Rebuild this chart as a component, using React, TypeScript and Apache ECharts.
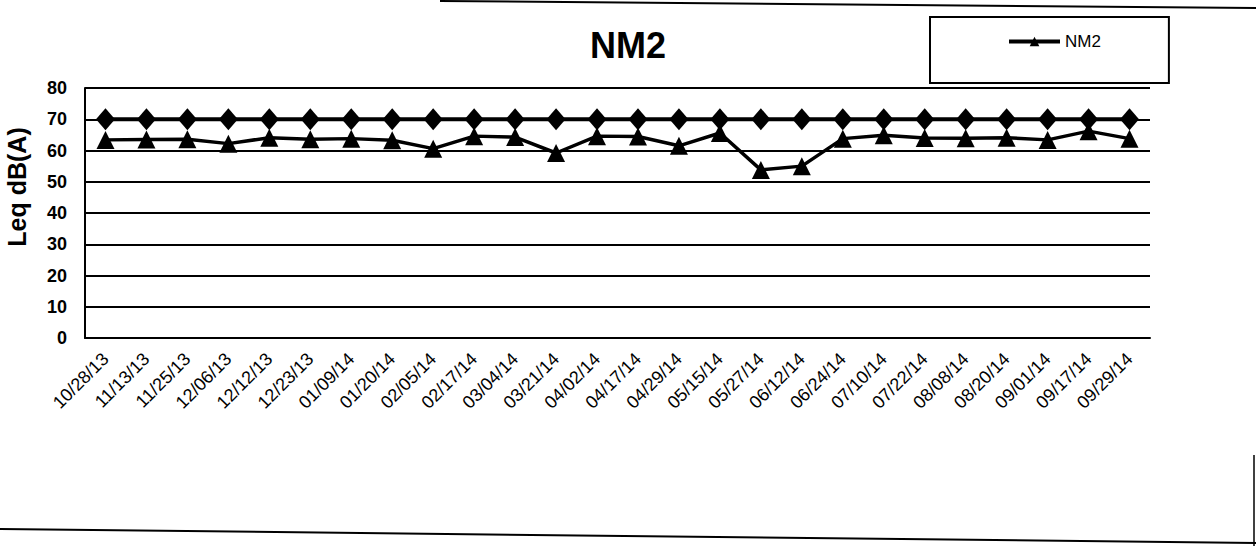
import React, { useEffect, useRef } from "react";
import * as echarts from "echarts";

const categories = [
  "10/28/13", "11/13/13", "11/25/13", "12/06/13", "12/12/13", "12/23/13",
  "01/09/14", "01/20/14", "02/05/14", "02/17/14", "03/04/14", "03/21/14",
  "04/02/14", "04/17/14", "04/29/14", "05/15/14", "05/27/14", "06/12/14",
  "06/24/14", "07/10/14", "07/22/14", "08/08/14", "08/20/14", "09/01/14",
  "09/17/14", "09/29/14",
];

const nm2Values = [
  63.4, 63.5, 63.6, 62.2, 64.1, 63.6, 63.8, 63.3, 60.6, 64.6, 64.3, 59.2, 64.6,
  64.5, 61.5, 65.6, 53.8, 55.0, 63.8, 64.9, 64.0, 63.9, 64.1, 63.4, 66.2, 63.8,
];

const limitValues = [
  70, 70, 70, 70, 70, 70, 70, 70, 70, 70, 70, 70, 70,
  70, 70, 70, 70, 70, 70, 70, 70, 70, 70, 70, 70, 70,
];

const yTicks = { min: 0, max: 80, interval: 10 };
const titleText = "NM2";
const yAxisName = "Leq dB(A)";

const FONT = '"Liberation Sans", Arial, sans-serif';

export default function App() {
  const ref = useRef<HTMLDivElement>(null);

  useEffect(() => {
    document.body.style.margin = "0";
    if (!ref.current) return;
    const chart = echarts.init(ref.current, undefined, { renderer: "svg" });
    chart.setOption({
      animation: false,
      backgroundColor: "#ffffff",
      title: {
        text: titleText,
        left: "center",
        top: 22,
        textStyle: { fontFamily: FONT, fontWeight: "bold", fontSize: 36, color: "#000" },
      },
      legend: {
        data: ["NM2"],
        left: 930,
        top: 17,
        padding: [16, 68, 33, 77],
        borderColor: "#000",
        borderWidth: 2,
        itemWidth: 51,
        itemHeight: 12,
        lineStyle: { width: 4, color: "#000" },
        textStyle: { fontFamily: FONT, fontSize: 17, color: "#000" },
      },
      grid: { left: 85, right: 106, top: 88, bottom: 208 },
      xAxis: {
        type: "category",
        data: categories,
        boundaryGap: true,
        axisLine: { lineStyle: { color: "#000", width: 2 } },
        axisTick: { show: false },
        axisLabel: {
          rotate: 45,
          interval: 0,
          fontSize: 18,
          margin: 18,
          color: "#000",
          fontFamily: FONT,
        },
      },
      yAxis: {
        type: "value",
        min: yTicks.min,
        max: yTicks.max,
        interval: yTicks.interval,
        axisLine: { show: true, lineStyle: { color: "#000", width: 2 } },
        axisTick: { show: false },
        splitLine: { lineStyle: { color: "#000", width: 2 } },
        axisLabel: {
          fontSize: 18,
          fontWeight: "bold",
          color: "#000",
          margin: 18,
          fontFamily: FONT,
        },
      },
      series: [
        {
          name: "Limit",
          type: "line",
          data: limitValues,
          symbol: "diamond",
          symbolSize: [19, 22],
          lineStyle: { color: "#000", width: 4 },
          itemStyle: { color: "#000" },
          z: 3,
        },
        {
          name: "NM2",
          type: "line",
          data: nm2Values,
          symbol: "triangle",
          symbolSize: 18,
          lineStyle: { color: "#000", width: 3.5 },
          itemStyle: { color: "#000" },
          z: 4,
        },
      ],
      graphic: [
        {
          type: "text",
          x: 17,
          y: 187,
          rotation: Math.PI / 2,
          style: {
            text: yAxisName,
            font: `bold 25px ${FONT}`,
            fill: "#000",
            textAlign: "center",
            textVerticalAlign: "middle",
          },
        },
        {
          type: "line",
          shape: { x1: 440, y1: 1, x2: 1256, y2: 8 },
          style: { stroke: "#000", lineWidth: 2 },
        },
        {
          type: "line",
          shape: { x1: 0, y1: 529, x2: 1256, y2: 543 },
          style: { stroke: "#000", lineWidth: 2 },
        },
        {
          type: "line",
          shape: { x1: 1254, y1: 455, x2: 1254, y2: 546 },
          style: { stroke: "#000", lineWidth: 1.5 },
        },
      ],
    });
    return () => chart.dispose();
  }, []);

  return <div ref={ref} style={{ width: 1256, height: 546 }} />;
}
